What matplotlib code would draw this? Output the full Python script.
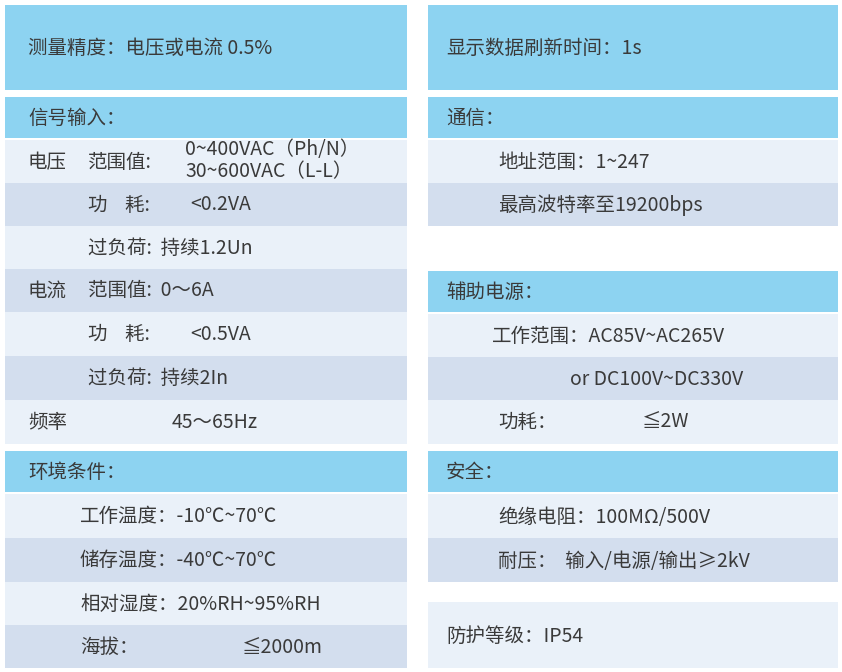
import matplotlib
matplotlib.use("Agg")
import matplotlib.pyplot as plt
from matplotlib.patches import Rectangle

plt.rcParams['font.family'] = ['Noto Sans CJK SC', 'DejaVu Sans']

HEAD = "#8dd3f1"
LIGHT = "#eaf1f9"
GRAY = "#d3deee"
TXT = "#3a3a3a"

# rows: (text, text x, top, bottom, colour)
left_rows = [
    ("测量精度：电压或电流 0.5%", 28, 5, 90, HEAD),
    ("信号输入：", 28, 97, 138, HEAD),
    ("电压", 28, 140, 183, LIGHT),
    ("功    耗:", 88, 183, 226, GRAY),
    ("过负荷:  持续1.2Un", 88, 226, 269, LIGHT),
    ("电流", 28, 269, 312, GRAY),
    ("功    耗:", 88, 312, 356, LIGHT),
    ("过负荷:  持续2In", 88, 356, 400, GRAY),
    ("频率", 28, 400, 444, LIGHT),
    ("环境条件：", 28, 451, 492, HEAD),
    ("工作温度：-10℃~70℃", 80, 494, 538, LIGHT),
    ("储存温度：-40℃~70℃", 80, 538, 582, GRAY),
    ("相对湿度：20%RH~95%RH", 80, 582, 625, LIGHT),
    ("海拔：", 80, 625, 668, GRAY),
]
right_rows = [
    ("显示数据刷新时间：1s", 446, 5, 90, HEAD),
    ("通信：", 446, 97, 138, HEAD),
    ("地址范围：1~247", 498, 140, 183, LIGHT),
    ("最高波特率至19200bps", 498, 183, 226, GRAY),
    ("辅助电源：", 446, 271, 312, HEAD),
    ("工作范围：AC85V~AC265V", 492, 314, 357, LIGHT),
    ("or DC100V~DC330V", 570, 357, 400, GRAY),
    ("功耗：", 498, 400, 444, LIGHT),
    ("安全：", 446, 451, 492, HEAD),
    ("绝缘电阻：100MΩ/500V", 498, 494, 538, LIGHT),
    ("耐压：  输入/电源/输出≥2kV", 498, 538, 582, GRAY),
    ("防护等级：IP54", 446, 602, 668, LIGHT),
]
# extra pieces placed at their own x: (text, x, y centre)
extras = [
    ("范围值:", 88, 162),
    ("0~400VAC（Ph/N）", 185, 150),
    ("30~600VAC（L-L）", 185, 172),
    ("<0.2VA", 190, 205),
    ("范围值:  0～6A", 88, 291),
    ("<0.5VA", 190, 334),
    ("45～65Hz", 172, 422),
    ("≦2000m", 242, 647),
    ("≦2W", 642, 422),
]

fig = plt.figure(figsize=(8.42, 6.72), dpi=100)
ax = fig.add_axes([0, 0, 1, 1])
ax.set_xlim(0, 842)
ax.set_ylim(672, 0)
ax.axis("off")

for rows, x0, x1 in [(left_rows, 5, 407), (right_rows, 428, 838)]:
    for text, tx, top, bot, col in rows:
        ax.add_patch(Rectangle((x0, top), x1 - x0, bot - top, color=col, lw=0))
        ax.text(tx, (top + bot) / 2 + 1, text, fontsize=14, color=TXT, va="center")

for text, tx, ty in extras:
    ax.text(tx, ty, text, fontsize=14, color=TXT, va="center")

fig.savefig("out.png", dpi=100)
